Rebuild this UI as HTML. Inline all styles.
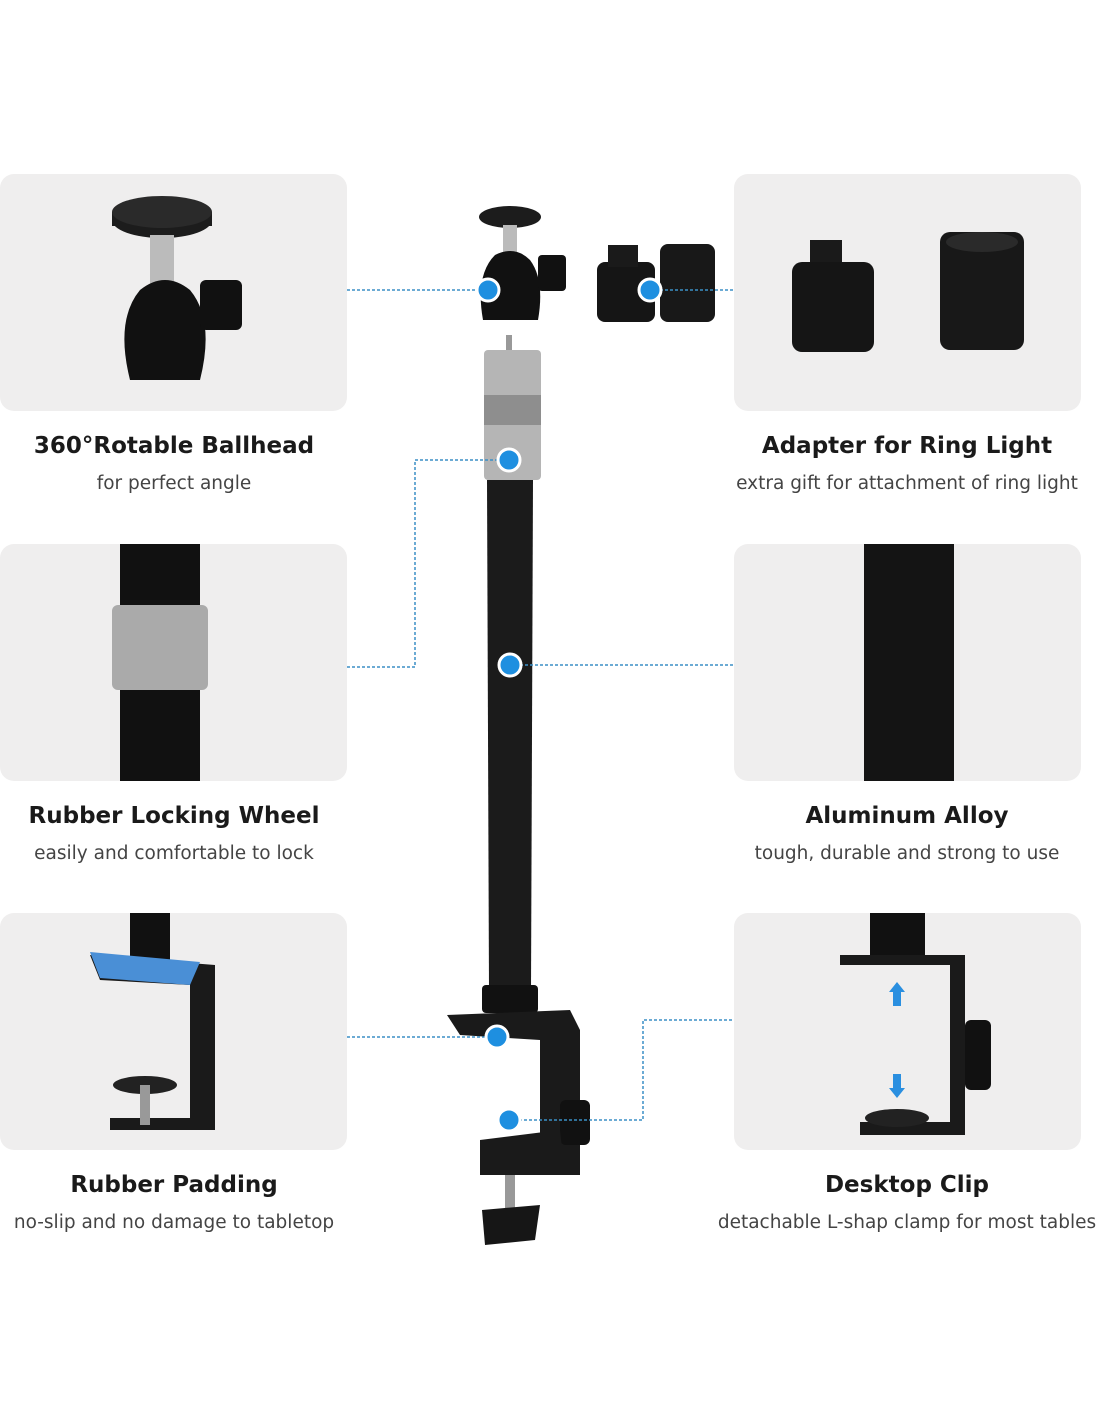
<!DOCTYPE html>
<html><head><meta charset="utf-8"><style>
body{margin:0;background:#fff;}
svg{display:block}
text{font-family:"DejaVu Sans","Liberation Sans",sans-serif;}
</style></head><body>
<svg width="1100" height="1422" viewBox="0 0 1100 1422">
<rect width="1100" height="1422" fill="#fff"/>
<g fill="#efeeee">
<rect x="0" y="174" width="347" height="237" rx="14"/>
<rect x="734" y="174" width="347" height="237" rx="14"/>
<rect x="0" y="544" width="347" height="237" rx="14"/>
<rect x="734" y="544" width="347" height="237" rx="14"/>
<rect x="0" y="913" width="347" height="237" rx="14"/>
<rect x="734" y="913" width="347" height="237" rx="14"/>
</g>
<ellipse cx="162" cy="220" rx="50" ry="18" fill="#1c1c1c"/>
<rect x="112" y="212" width="100" height="14" fill="#1c1c1c"/>
<ellipse cx="162" cy="212" rx="50" ry="16" fill="#2a2a2a"/>
<rect x="150" y="235" width="24" height="50" fill="#bbb"/>
<path d="M130 380 Q115 320 140 290 Q165 270 190 290 Q215 320 200 380 Z" fill="#111"/>
<rect x="200" y="280" width="42" height="50" rx="6" fill="#111"/>
<rect x="810" y="240" width="32" height="30" fill="#1a1a1a"/>
<rect x="792" y="262" width="82" height="90" rx="10" fill="#151515"/>
<rect x="940" y="232" width="84" height="118" rx="10" fill="#181818"/>
<ellipse cx="982" cy="242" rx="36" ry="10" fill="#2a2a2a"/>
<rect x="120" y="544" width="80" height="237" fill="#111"/>
<rect x="112" y="605" width="96" height="85" rx="6" fill="#aaa"/>
<rect x="864" y="544" width="90" height="237" fill="#141414"/>
<rect x="130" y="913" width="40" height="50" fill="#111"/>
<path d="M90 955 L215 965 L215 1130 L110 1130 L110 1118 L190 1118 L190 985 L100 980 Z" fill="#1a1a1a"/>
<path d="M90 952 L200 962 L190 985 L100 978 Z" fill="#4a8fd6"/>
<ellipse cx="145" cy="1085" rx="32" ry="9" fill="#222"/>
<rect x="140" y="1085" width="10" height="40" fill="#999"/>
<rect x="870" y="913" width="55" height="45" fill="#111"/>
<path d="M840 955 L965 955 L965 1135 L860 1135 L860 1122 L950 1122 L950 965 L840 965 Z" fill="#1a1a1a"/>
<rect x="965" y="1020" width="26" height="70" rx="6" fill="#111"/>
<ellipse cx="897" cy="1118" rx="32" ry="9" fill="#222"/>
<path d="M897 982 l-8 10 h16 z M893 992 h8 v14 h-8z" fill="#2a8fe0"/>
<path d="M897 1098 l-8 -10 h16 z M893 1074 h8 v14 h-8z" fill="#2a8fe0"/>
<ellipse cx="510" cy="217" rx="31" ry="11" fill="#1c1c1c"/>
<rect x="503" y="225" width="14" height="30" fill="#bbb"/>
<path d="M483 320 Q475 275 495 255 Q515 245 530 260 Q545 280 538 320 Z" fill="#111"/>
<rect x="538" y="255" width="28" height="36" rx="4" fill="#111"/>
<rect x="597" y="262" width="58" height="60" rx="8" fill="#151515"/>
<rect x="608" y="245" width="30" height="22" fill="#1a1a1a"/>
<rect x="660" y="244" width="55" height="78" rx="8" fill="#181818"/>
<rect x="506" y="335" width="6" height="15" fill="#999"/>
<rect x="484" y="350" width="57" height="130" rx="4" fill="#b5b5b5"/>
<rect x="484" y="395" width="57" height="30" fill="#8e8e8e"/>
<path d="M487 480 L533 480 L531 990 L489 990 Z" fill="#1b1b1b"/>
<rect x="482" y="985" width="56" height="28" rx="4" fill="#111"/>
<path d="M447 1015 L570 1010 L580 1030 L580 1175 L540 1175 L540 1040 L460 1035 Z" fill="#1a1a1a"/>
<rect x="560" y="1100" width="30" height="45" rx="6" fill="#111"/>
<path d="M480 1140 L560 1130 L565 1175 L480 1175 Z" fill="#1a1a1a"/>
<rect x="505" y="1175" width="10" height="35" fill="#999"/>
<path d="M482 1210 L540 1205 L535 1240 L485 1245 Z" fill="#161616"/>
<g stroke="#3b8fc6" stroke-width="1.5" stroke-dasharray="3,2" fill="none">
<path d="M347 290 H488"/>
<path d="M650 290 H734"/>
<path d="M347 667 H415 V460 H509"/>
<path d="M510 665 H734"/>
<path d="M347 1037 H497"/>
<path d="M509 1120 H643 V1020 H734"/>
</g>
<g fill="#1e8fe0" stroke="#fff" stroke-width="3">
<circle cx="488" cy="290" r="11"/>
<circle cx="650" cy="290" r="11"/>
<circle cx="509" cy="460" r="11"/>
<circle cx="510" cy="665" r="11"/>
<circle cx="497" cy="1037" r="11"/>
<circle cx="509" cy="1120" r="11"/>
</g>
<g text-anchor="middle">
<g font-size="23" fill="#1a1a1a" font-weight="bold">
<text x="174" y="453">360°Rotable Ballhead</text>
<text x="907" y="453">Adapter for Ring Light</text>
<text x="174" y="823">Rubber Locking Wheel</text>
<text x="907" y="823">Aluminum Alloy</text>
<text x="174" y="1192">Rubber Padding</text>
<text x="907" y="1192">Desktop Clip</text>
</g>
<g font-size="18.5" fill="#444">
<text x="174" y="489">for perfect angle</text>
<text x="907" y="489">extra gift for attachment of ring light</text>
<text x="174" y="859">easily and comfortable to lock</text>
<text x="907" y="859">tough, durable and strong to use</text>
<text x="174" y="1228">no-slip and no damage to tabletop</text>
<text x="907" y="1228">detachable L-shap clamp for most tables</text>
</g>
</g>
</svg>
</body></html>
